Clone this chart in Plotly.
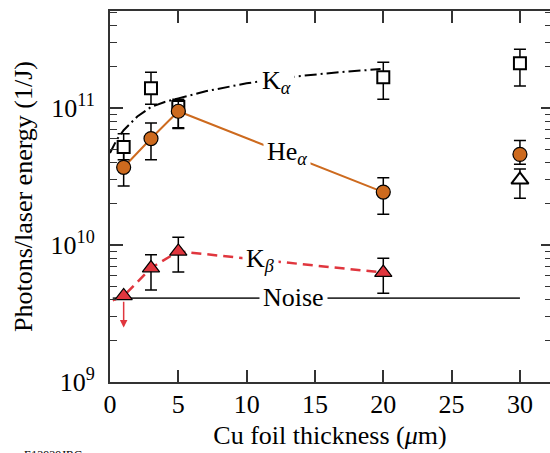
import plotly.graph_objects as go
import math

# ---------------- data ----------------
ka_x = [1, 3, 5, 20, 30]
ka_y = [5.2e10, 1.40e11, 1.02e11, 1.68e11, 2.13e11]
ka_up = [6.5e10, 1.83e11, 1.16e11, 2.17e11, 2.70e11]
ka_lo = [4.2e10, 1.07e11, 0.72e11, 1.16e11, 1.45e11]

ka_fit_x = [0, 0.5, 1, 2, 3, 4, 5, 7, 10, 13.7, 17, 19.8]
ka_fit_y = [4.7e10, 5.9e10, 6.9e10, 8.7e10, 1.02e11, 1.11e11, 1.18e11, 1.33e11, 1.52e11, 1.71e11, 1.84e11, 1.93e11]

hea_x = [1, 3, 5, 20, 30]
hea_y = [3.7e10, 6.0e10, 9.5e10, 2.44e10, 4.6e10]
hea_up = [4.7e10, 7.8e10, 1.14e11, 3.1e10, 5.8e10]
hea_lo = [2.7e10, 4.2e10, 7.1e10, 1.68e10, 3.9e10]
hea_line_x = [1, 3, 5, 20]
hea_line_y = [3.7e10, 6.0e10, 9.5e10, 2.44e10]

open_tri_x = [30]
open_tri_y = [3.0e10]
open_tri_up = [3.6e10]
open_tri_lo = [2.2e10]

kb_x = [3, 5, 20]
kb_y = [6.8e9, 9.0e9, 6.3e9]
kb_up = [8.5e9, 1.14e10, 8.0e9]
kb_lo = [4.7e9, 6.35e9, 4.45e9]
kb_limit_point_x = [1]
kb_limit_point_y = [4.25e9]
kb_limit_arrow_y = 2.5e9
kb_line_x = [0.2, 1, 3, 5, 20]
kb_line_y = [3.95e9, 4.25e9, 6.8e9, 9.0e9, 6.3e9]

noise_x = [0.2, 30]
noise_y = [4.1e9, 4.1e9]

x_ticks = [0, 5, 10, 15, 20, 25, 30]
y_ticks = [1e9, 1e10, 1e11]
y_ticktext = ["10<sup>9</sup>", "10<sup>10</sup>", "10<sup>11</sup>"]

FONT = "Liberation Serif"
FS = 26
ORANGE = "#CD6A1E"
RED = "#E0363E"
AX = "#333333"


def errs(y, up, lo):
    return [u - v for u, v in zip(up, y)], [v - l for v, l in zip(y, lo)]


fig = go.Figure()

# lines
fig.add_trace(go.Scatter(x=ka_fit_x, y=ka_fit_y, mode="lines",
                         line=dict(color="black", width=2, dash="12px,4px,2px,4px"),
                         hoverinfo="skip", showlegend=False))
fig.add_trace(go.Scatter(x=hea_line_x, y=hea_line_y, mode="lines",
                         line=dict(color=ORANGE, width=2), showlegend=False))
fig.add_trace(go.Scatter(x=kb_line_x, y=kb_line_y, mode="lines",
                         line=dict(color=RED, width=2.5, dash="10px,6px"), showlegend=False))
fig.add_trace(go.Scatter(x=noise_x, y=noise_y, mode="lines",
                         line=dict(color=AX, width=1.8), showlegend=False))

EB = dict(type="data", symmetric=False, color="black", thickness=1.5, width=6)

ep, em = errs(ka_y, ka_up, ka_lo)
fig.add_trace(go.Scatter(x=ka_x, y=ka_y, mode="markers",
                         marker=dict(symbol="square", size=12, color="white",
                                     line=dict(color="black", width=2)),
                         error_y=dict(EB, array=ep, arrayminus=em), showlegend=False))
ep, em = errs(hea_y, hea_up, hea_lo)
fig.add_trace(go.Scatter(x=hea_x, y=hea_y, mode="markers",
                         marker=dict(symbol="circle", size=14, color=ORANGE,
                                     line=dict(color="black", width=1.2)),
                         error_y=dict(EB, array=ep, arrayminus=em), showlegend=False))
ep, em = errs(open_tri_y, open_tri_up, open_tri_lo)
fig.add_trace(go.Scatter(x=open_tri_x, y=open_tri_y, mode="markers",
                         marker=dict(symbol="triangle-up", size=15, color="white",
                                     line=dict(color="black", width=2)),
                         error_y=dict(EB, array=ep, arrayminus=em), showlegend=False))
ep, em = errs(kb_y, kb_up, kb_lo)
fig.add_trace(go.Scatter(x=kb_x, y=kb_y, mode="markers",
                         marker=dict(symbol="triangle-up", size=15, color=RED,
                                     line=dict(color="black", width=1.2)),
                         error_y=dict(EB, array=ep, arrayminus=em), showlegend=False))
fig.add_trace(go.Scatter(x=kb_limit_point_x, y=kb_limit_point_y, mode="markers",
                         marker=dict(symbol="triangle-up", size=15, color=RED,
                                     line=dict(color="black", width=1.2)),
                         showlegend=False))

# dummy trace to activate the mirrored top / right tick axes
fig.add_trace(go.Scatter(x=[None], y=[None], xaxis="x2", yaxis="y2",
                         showlegend=False, hoverinfo="skip"))

lab_font = dict(family=FONT, size=FS, color="black")
annotations = [
    dict(x=kb_limit_point_x[0], y=math.log10(kb_limit_arrow_y),
         ax=kb_limit_point_x[0], ay=math.log10(kb_limit_point_y[0] * 0.93),
         xref="x", yref="y", axref="x", ayref="y", text="", showarrow=True,
         arrowhead=2, arrowsize=1, arrowwidth=1.5, arrowcolor=RED),
    dict(x=12.2, y=11.19, xref="x", yref="y", text="K<sub><i>α</i></sub>", showarrow=False,
         font=lab_font, bgcolor="white", borderpad=3),
    dict(x=12.95, y=10.675, xref="x", yref="y", text="He<sub><i>α</i></sub>", showarrow=False,
         font=lab_font, bgcolor="white", borderpad=3),
    dict(x=11.05, y=9.89, xref="x", yref="y", text="K<sub><i>β</i></sub>", showarrow=False,
         font=lab_font, bgcolor="white", borderpad=3),
    dict(x=13.46, y=9.62, xref="x", yref="y", text="Noise", showarrow=False,
         font=lab_font, bgcolor="white", borderpad=3),
    dict(x=-0.2, y=-0.172, xref="paper", yref="paper", xanchor="left", yanchor="top",
         text="E13939JRC", showarrow=False, font=dict(family=FONT, size=12, color="black")),
]

minor_vals = [m * 10 ** e for e in (9, 10, 11) for m in range(2, 10) if m * 10 ** e < 5.2e11]

fig.update_layout(
    width=550, height=453,
    margin=dict(l=110, r=0, t=11, b=71),
    plot_bgcolor="white", paper_bgcolor="white",
    font=dict(family=FONT, size=FS, color="black"),
    annotations=annotations,
    xaxis=dict(range=[0, 32.2], tickvals=x_ticks, ticks="inside", ticklen=12, tickwidth=1.5,
               tickcolor=AX, showline=True, linecolor=AX, linewidth=2,
               showgrid=False, zeroline=False, ticklabelstandoff=-2,
               tickfont=dict(family=FONT, size=FS),
               title=dict(text="Cu foil thickness (<i>μ</i>m)", standoff=8,
                          font=dict(family=FONT, size=FS))),
    xaxis2=dict(range=[0, 32.2], overlaying="x", side="top", tickvals=x_ticks,
                showticklabels=False, ticks="inside", ticklen=12, tickwidth=1.5, tickcolor=AX,
                showline=True, linecolor=AX, linewidth=2, showgrid=False, zeroline=False),
    yaxis=dict(type="log", range=[9, 11.71], tickvals=y_ticks, ticktext=y_ticktext,
               ticks="inside", ticklen=13, tickwidth=1.5, tickcolor=AX,
               showline=True, linecolor=AX, linewidth=2, showgrid=False, zeroline=False,
               ticklabelstandoff=8, tickfont=dict(family=FONT, size=FS),
               minor=dict(tickvals=minor_vals, ticks="inside", ticklen=7, tickwidth=1.2,
                          tickcolor=AX, showgrid=False),
               title=dict(text="Photons/laser energy (1/J)", standoff=11,
                          font=dict(family=FONT, size=FS))),
    yaxis2=dict(type="log", range=[9, 11.71], overlaying="y", side="right",
                tickvals=y_ticks, showticklabels=False, ticks="inside", ticklen=9,
                tickwidth=1.5, tickcolor=AX, showline=False, showgrid=False, zeroline=False,
                minor=dict(tickvals=minor_vals, ticks="inside", ticklen=5, tickwidth=1.2,
                           tickcolor=AX, showgrid=False)),
)

fig.write_html("out.html")
